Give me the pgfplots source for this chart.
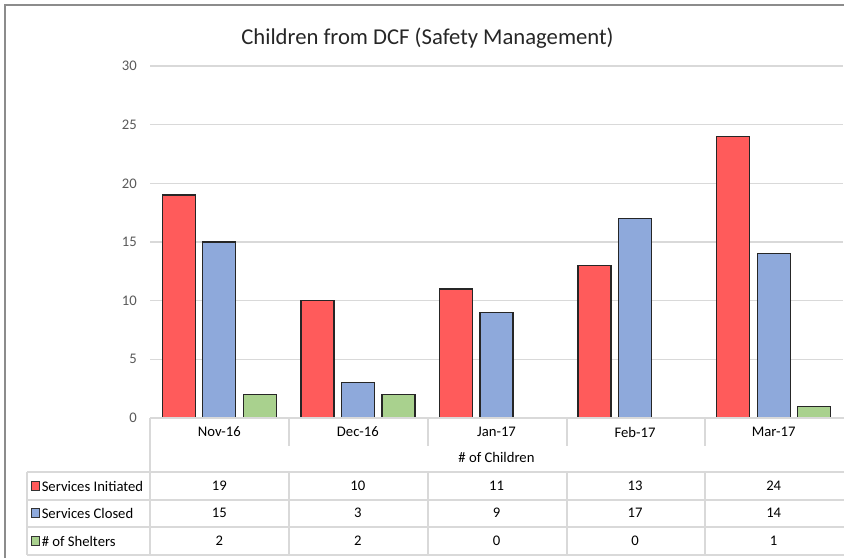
\documentclass[border=0pt]{standalone}
\usepackage{pgfplots}
\usepackage{pgfplotstable}
\pgfplotsset{compat=1.18}
\usepackage{fontspec}
\setmainfont{Carlito}
\definecolor{cred}{HTML}{FF5B5B}
\definecolor{cblue}{HTML}{8EA9DB}
\definecolor{cgreen}{HTML}{A9D18E}
\definecolor{gridc}{HTML}{D9D9D9}
\definecolor{tickc}{HTML}{595959}
\definecolor{framec}{HTML}{8C8C8C}
\pgfplotstableread{
x si sc sh
0 19 15 2
1 10 3 2
2 11 9 0
3 13 17 0
4 24 14 1
}\datatable
\begin{document}
\begin{tikzpicture}
\begin{axis}[
  at={(112.5pt,-313.5pt)}, anchor=south west,
  scale only axis, width=519.75pt, height=264pt,
  xmin=-0.5, xmax=4.5, ymin=0, ymax=30,
  ytick={0,5,...,30}, xtick=\empty,
  axis line style={draw=none},
  major tick length=0pt,
  ymajorgrids, grid style={gridc, line width=1pt},
  yticklabel style={inner sep=0pt, xshift=-9.75pt, text=tickc, font=\fontsize{11}{13}\selectfont},
  /pgf/number format/assume math mode=true,
  ybar, bar width=24.75pt,
  clip=false,
]
\addplot[fill=cred, draw=black!85, line width=1pt, bar shift=-30.4pt] table[x=x,y=si]{\datatable};
\addplot[fill=cblue, draw=black!85, line width=1pt, bar shift=0pt] table[x=x,y=sc]{\datatable};
\addplot[fill=cgreen, draw=black!85, line width=1pt, bar shift=30.4pt] table[x=x,y=sh]{\datatable};
\end{axis}
\begin{scope}[x=0.75pt, y=-0.75pt]
\useasboundingbox (0,0) rectangle (844,558);
% frame
\draw[framec, line width=1.5pt] (5,558) -- (5,5) -- (844,5);
% title
\node[font=\fontsize{17}{20}\selectfont, text=black!85] at (427.5,38) {Children from DCF (Safety Management)};
% table lines
\begin{scope}[gridc, line width=1.1pt]
\draw (150,418) -- (844,418);
\draw (150,418) -- (150,555);
\foreach \xx in {289,428,567,705} {
  \draw (\xx,418) -- (\xx,446);
  \draw (\xx,472) -- (\xx,555);
}
\draw (27,472) -- (27,555);
\foreach \yy in {472,500,527,555} { \draw (27,\yy) -- (844,\yy); }
\end{scope}
% category labels
\foreach \lab [count=\i from 0] in {Nov-16,Dec-16,Jan-17,Feb-17,Mar-17} {
  \node[font=\fontsize{11}{13}\selectfont] at ({150+138.6*(\i+0.5)},432) {\lab};
}
\node[font=\fontsize{11}{13}\selectfont] at (496.5,457) {\# of Children};
% row labels with keys
\foreach \col/\lab/\yy in {cred/Services Initiated/486, cblue/Services Closed/513, cgreen/\# of Shelters/541} {
  \filldraw[fill=\col, draw=black!80, line width=0.6pt] (31,\yy-4.5) rectangle (39,\yy+4.5);
  \node[font=\fontsize{11}{13}\selectfont, anchor=west, inner sep=0pt] at (41.5,\yy) {\lab};
}
% values
\foreach \i in {0,...,4} {
  \pgfplotstablegetelem{\i}{si}\of\datatable
  \node[font=\fontsize{11}{13}\selectfont] at ({150+138.6*(\i+0.5)},486) {\pgfplotsretval};
  \pgfplotstablegetelem{\i}{sc}\of\datatable
  \node[font=\fontsize{11}{13}\selectfont] at ({150+138.6*(\i+0.5)},513) {\pgfplotsretval};
  \pgfplotstablegetelem{\i}{sh}\of\datatable
  \node[font=\fontsize{11}{13}\selectfont] at ({150+138.6*(\i+0.5)},541) {\pgfplotsretval};
}
\end{scope}
\end{tikzpicture}
\end{document}
